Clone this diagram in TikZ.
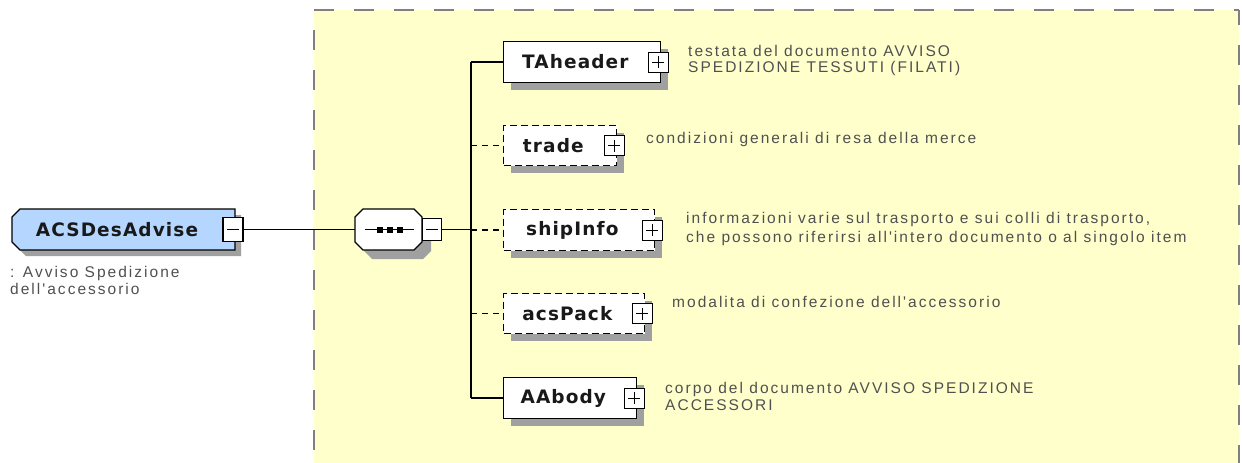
\documentclass[tikz,border=0pt]{standalone}
\usepackage{fontspec}
\setmainfont{Liberation Sans}
\newfontfamily\namefont{DejaVu Sans}[LetterSpace=6]
\newfontfamily\descfont{Liberation Sans}[LetterSpace=13]
\usetikzlibrary{calc}
\definecolor{bgyellow}{RGB}{255,255,204}
\definecolor{bordergray}{RGB}{128,128,128}
\definecolor{shadowgray}{RGB}{160,160,160}
\definecolor{rootblue}{RGB}{180,214,255}
\definecolor{descgray}{RGB}{80,80,80}
\definecolor{namegray}{RGB}{25,25,25}
\tikzset{
  conn/.style={line width=1.3pt},
  optconn/.style={conn, dash pattern=on 6pt off 5pt},
  elembox/.style={draw, line width=1.2pt, fill=white, inner sep=0pt, anchor=north west},
  optbox/.style={elembox, dash pattern=on 7pt off 4pt},
  pmbox/.style={draw, fill=white, line width=1.1pt, minimum width=20pt, minimum height=20pt, inner sep=0pt},
  pmsign/.style={line width=1.2pt},
  namelbl/.style={font=\namefont\bfseries\fontsize{18.5}{22}\selectfont, text=namegray, inner sep=0pt},
  desclbl/.style={font=\descfont\fontsize{15.5}{17}\selectfont, text=descgray, inner sep=0pt, anchor=base west},
  bgborder/.style={bordergray, line width=2pt, dash pattern=on 20pt off 20pt},
}
\newcommand\kid[6]{% id, top, width, height, style, label
  \fill[shadowgray] (511,#2+8) rectangle ++(#3,#4);
  \node[#5, minimum width=#3pt, minimum height=#4pt] (#1) at (503,#2) {};
  \node[pmbox] (#1pm) at ($(#1.east)+(-3,0)$) {};
  \draw[pmsign] ($(#1pm)+(-6,0)$) -- ($(#1pm)+(6,0)$) ($(#1pm)+(0,-6)$) -- ($(#1pm)+(0,6)$);
  \node[namelbl] (#1lbl) at ($(#1.west)!0.5!(#1pm.west)$) {#6};
}
\begin{document}
\begin{tikzpicture}[x=1pt,y=-1pt]
\useasboundingbox (0,0) rectangle (1242,463);
% background
\fill[bgyellow] (314,10) rectangle (1239,463);
\draw[bgborder] (314,10) -- (1239,10);
\draw[bgborder, dash phase=20pt] (314,10) -- (314,463);
\draw[bgborder, dash phase=5pt] (1239,10) -- (1239,463);
% root element
\fill[shadowgray] (26,215) -- (241,215) -- (241,256) -- (26,256) -- (18,248) -- (18,223) -- cycle;
\path[fill=rootblue, draw, line width=1.2pt] (20,209) -- (235,209) -- (235,250) -- (20,250) -- (12,242) -- (12,217) -- cycle;
\node[namelbl] (root) at (117,229.5) {ACSDesAdvise};
\node[pmbox, minimum height=24pt] (rootpm) at (233,229.5) {};
\draw[pmsign] ($(rootpm)+(-6,0)$) -- ($(rootpm)+(6,0)$);
\node[desclbl] (rootdesc) at (10,277) {\begin{tabular}[t]{@{}l@{}}: Avviso Spedizione\\dell'accessorio\end{tabular}};
% sequence compositor
\fill[shadowgray] (372,218) -- (423,218) -- (431,226) -- (431,251) -- (423,259) -- (372,259) -- (364,251) -- (364,226) -- cycle;
\path[fill=white, draw, line width=1.2pt] (363,209) -- (414,209) -- (422,217) -- (422,242) -- (414,250) -- (363,250) -- (355,242) -- (355,217) -- cycle;
\node[minimum width=67pt, minimum height=41pt, inner sep=0pt] (seq) at (388.5,229.5) {};
\draw[conn] (365,229.5) -- (414,229.5);
\fill (377,226.5) rectangle ++(6,6);
\fill (387,226.5) rectangle ++(6,6);
\fill (397,226.5) rectangle ++(6,6);
\node[pmbox, minimum width=19pt, minimum height=22pt] (seqpm) at (432,229.5) {};
\draw[pmsign] ($(seqpm)+(-6,0)$) -- ($(seqpm)+(6,0)$);
% children
\kid{TAheader}{41}{157}{41}{elembox}{TAheader}
\kid{trade}{125}{113}{40}{optbox}{trade}
\kid{shipInfo}{209}{151}{41}{optbox}{shipInfo}
\kid{acsPack}{293}{141}{40}{optbox}{acsPack}
\kid{AAbody}{377}{133}{41}{elembox}{AAbody}
% connectors
\coordinate (busmid) at (471,229.5);
\coordinate (bus) at (471,0);
\draw[conn] (rootpm.east) -- (seq.west);
\draw[conn] (seqpm.east) -- (busmid);
\draw[conn] (bus |- TAheader.west) -- (bus |- AAbody.west);
\draw[conn] (bus |- TAheader.west) -- (TAheader.west);
\draw[optconn] (bus |- trade.west) -- (trade.west);
\draw[optconn] (bus |- shipInfo.west) -- (shipInfo.west);
\draw[optconn] (bus |- acsPack.west) -- (acsPack.west);
\draw[conn] (bus |- AAbody.west) -- (AAbody.west);
% descriptions
\node[desclbl] (TAheaderdesc) at (688,56) {\begin{tabular}[t]{@{}l@{}}testata del documento AVVISO\\SPEDIZIONE TESSUTI (FILATI)\end{tabular}};
\node[desclbl] (tradedesc) at (646,143) {condizioni generali di resa della merce};
\node[desclbl] (shipInfodesc) at (686,223) {\begin{tabular}[t]{@{}l@{}}informazioni varie sul trasporto e sui colli di trasporto,\\[2pt]che possono riferirsi all'intero documento o al singolo item\end{tabular}};
\node[desclbl] (acsPackdesc) at (672,307) {modalita di confezione dell'accessorio};
\node[desclbl] (AAbodydesc) at (665,393) {\begin{tabular}[t]{@{}l@{}}corpo del documento AVVISO SPEDIZIONE\\ACCESSORI\end{tabular}};
\end{tikzpicture}
\end{document}
